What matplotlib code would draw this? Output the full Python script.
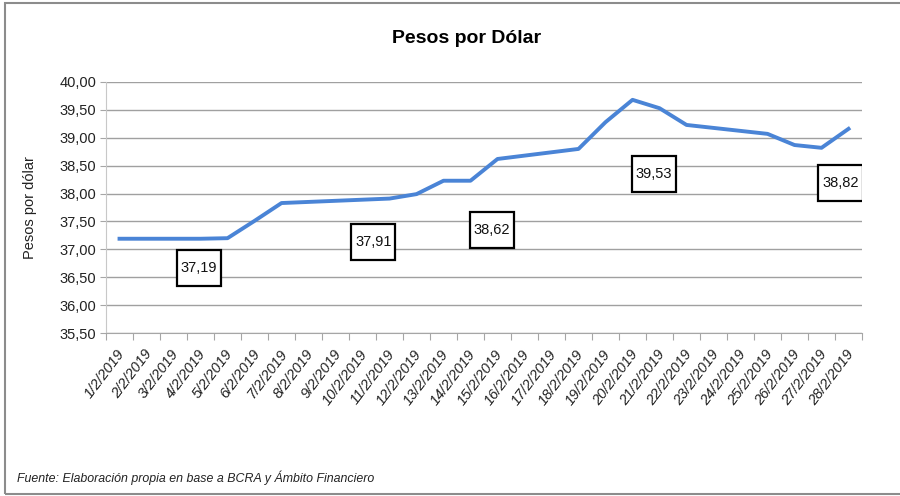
import matplotlib
matplotlib.use("Agg")
import matplotlib.pyplot as plt
import numpy as np
from matplotlib.patches import Rectangle
from matplotlib.transforms import ScaledTranslation

plt.rcParams['font.family'] = ['Liberation Sans', 'DejaVu Sans']

# fechas del eje (todas las del mes)
fechas = [f"{d}/2/2019" for d in range(1, 29)]

# cotizacion en dias habiles (dia del mes, valor)
dias_habiles = [1, 4, 5, 6, 7, 8, 11, 12, 13, 14, 15, 18, 19, 20, 21, 22, 25, 26, 27, 28]
cotizacion = [37.19, 37.19, 37.20, 37.51, 37.83, 37.85, 37.91, 37.99, 38.23, 38.23,
              38.62, 38.80, 39.28, 39.68, 39.53, 39.23, 39.07, 38.87, 38.82, 39.16]

# recuadros con valores destacados
etiq_textos = ["37,19", "37,91", "38,62", "39,53", "38,82"]
etiq_pos = [(2.95, 36.67), (9.4, 37.13), (13.8, 37.35), (19.8, 38.35), (26.7, 38.19)]

fig = plt.figure(figsize=(9, 4.96), dpi=100, facecolor="w")
ax = fig.add_axes([0.1178, 0.3286, 0.84, 0.5061])

x = np.array(dias_habiles) - 1
ax.plot(x, cotizacion, color="#4a84d6", lw=2.8, solid_joinstyle="round", zorder=3)

bw, bh = 1.64, 0.645
for txt, (px, py) in zip(etiq_textos, etiq_pos):
    ax.add_patch(Rectangle((px - bw / 2, py - bh / 2), bw, bh, fc="white", ec="black",
                           lw=1.6, zorder=4))
    ax.text(px, py, txt, fontsize=10.5, ha="center", va="center", zorder=5, color="#111111")

ax.set_xlim(-0.5, 27.5)
ax.set_ylim(35.5, 40.0)
yt = np.arange(35.5, 40.01, 0.5)
ax.set_yticks(yt)
ax.set_yticklabels([f"{v:.2f}".replace(".", ",") for v in yt], fontsize=10.5, color="#222222")
ax.yaxis.grid(True, color="#a0a0a0", lw=1)
ax.set_axisbelow(True)

ax.set_xticks(np.arange(-0.5, 28, 1))
ax.set_xticklabels([])
ax.set_xticks(np.arange(28), minor=True)
ax.set_xticklabels(fechas, minor=True, rotation=53, ha="right", va="top",
                   rotation_mode="anchor", fontsize=10.5, style="italic", color="#222222")
ax.tick_params(axis="x", which="minor", length=0, pad=10)
ax.tick_params(axis="x", which="major", length=5, color="#a6a6a6")
ax.tick_params(axis="y", length=4, color="#a6a6a6", pad=3)
for lbl in ax.get_xticklabels(minor=True):
    lbl.set_transform(lbl.get_transform() + ScaledTranslation(-0.03, 0, fig.dpi_scale_trans))

for s in ["top", "right"]:
    ax.spines[s].set_visible(False)
ax.spines["left"].set_color("#c8c8c8")
ax.spines["bottom"].set_color("#a6a6a6")

ax.set_ylabel("Pesos por dólar", fontsize=10.5, labelpad=16, color="#222222")

fig.text(0.518, 0.922, "Pesos por Dólar", fontsize=14, weight="bold", ha="center", va="center")
fig.text(0.019, 0.036, "Fuente: Elaboración propia en base a BCRA y Ámbito Financiero",
         fontsize=8.9, style="italic", ha="left", va="center", color="#222222")

fig.patches.append(Rectangle((0.005, 0.004), 1.2, 0.99, transform=fig.transFigure,
                             fill=False, ec="#8c8c8c", lw=1.5))

fig.savefig("out.png", dpi=100)
